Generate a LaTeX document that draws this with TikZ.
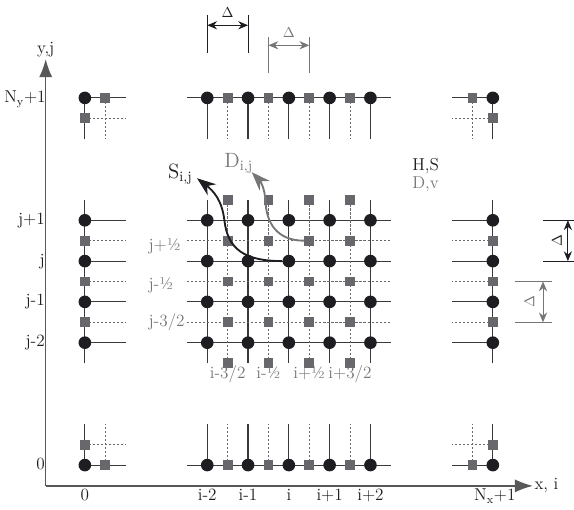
\documentclass[tikz,border=0pt]{standalone}
\usepackage{tikz}
\usetikzlibrary{arrows.meta,positioning}
\definecolor{dotblack}{RGB}{30,30,34}
\definecolor{boxgray}{RGB}{104,104,108}
\definecolor{wiregray}{RGB}{58,58,60}
\definecolor{labgray}{RGB}{118,118,120}
\tikzset{
  hnode/.style={circle,fill=dotblack,inner sep=0pt,minimum size=3.1mm},
  dnode/.style={rectangle,fill=boxgray,inner sep=0pt,minimum size=2.4mm},
  wire/.style={draw=wiregray,line width=0.8pt},
  halfwire/.style={draw=boxgray,line width=0.6pt,dash pattern=on 1.5pt off 1.3pt},
  coordaxis/.style={draw=wiregray!85,line width=0.9pt,-{Latex[length=4.4mm,width=3.2mm]}},
  lab/.style={font=\large,text=dotblack,inner sep=1pt},
  halflab/.style={font=\large,text=labgray,inner sep=1pt},
  biglab/.style={font=\Large,inner sep=1pt},
  keylab/.style={font=\large,inner sep=0pt},
  sflow/.style={-{Stealth[length=4.6mm,width=3.4mm]},line width=1.3pt,draw=dotblack},
  dflow/.style={-{Stealth[length=4.6mm,width=3.4mm]},line width=1.3pt,draw=labgray},
  deltadim/.style={{Stealth[length=2.4mm,width=2mm]}-{Stealth[length=2.4mm,width=2mm]},line width=0.7pt},
  deltaguide/.style={line width=0.6pt},
  deltalab/.style={font=\normalsize,inner sep=0.5pt}
}

\begin{document}
\begin{tikzpicture}
  \useasboundingbox (-2.08,-1.08) rectangle (11.99,11.40);
  \coordinate (orig) at (-0.96,-0.51);
  \coordinate (xtip) at (10.98,-0.51);
  \coordinate (ytip) at (-0.96,9.95);
  \draw[coordaxis] (orig) -- (xtip);
  \draw[coordaxis] (orig) -- (ytip);
  \node[lab,right=0pt of xtip] (xlab) {x, i};
  \node[lab,above=0pt of ytip] (ylab) {y,j};

  % inner block
  \foreach \r in {3,...,6} \draw[wire] (2.5,\r) -- (7.5,\r);
  \foreach \c in {3,...,7} \draw[wire] (\c,2.5) -- (\c,6.5);
  \foreach \k in {3,...,5} \draw[halfwire] (2.5,\k+0.5) -- (7.5,\k+0.5);
  \foreach \k in {3,...,6} \draw[halfwire] (\k+0.5,2.5) -- (\k+0.5,6.5);

  % top and bottom rows
  \foreach \r/\e in {9/8,0/1} {
    \draw[wire] (2.5,\r) -- (7.5,\r);
    \foreach \c in {3,...,7} \draw[wire] (\c,\r) -- (\c,\e);
    \foreach \c in {3,...,6} \draw[halfwire] (\c+0.5,\r) -- (\c+0.5,\e);
  }
  % left and right columns
  \foreach \c/\e in {0/1,10/9} {
    \draw[wire] (\c,2.5) -- (\c,6.5);
    \foreach \r in {3,...,6} \draw[wire] (\c,\r) -- (\e,\r);
    \foreach \r in {3,...,5} \draw[halfwire] (\c,\r+0.5) -- (\e,\r+0.5);
  }
  % corners
  \foreach \c/\r/\sx/\sy in {0/9/1/-1,0/0/1/1,10/9/-1/-1,10/0/-1/1} {
    \draw[wire] (\c+\sx,\r) -- (\c,\r) -- (\c,\r+\sy);
    \draw[halfwire] (\c+0.5*\sx,\r) -- (\c+0.5*\sx,\r+\sy);
    \draw[halfwire] (\c,\r+0.5*\sy) -- (\c+\sx,\r+0.5*\sy);
  }

  \foreach \c in {3,...,7} {
    \foreach \r in {3,...,6} \node[hnode] (h-\c-\r) at (\c,\r) {};
    \node[hnode] (h-\c-9) at (\c,9) {};
    \node[hnode] (h-\c-0) at (\c,0) {};
  }
  \foreach \c in {3,...,6} {
    \foreach \r in {2,...,6} \node[dnode] (d-\c-\r) at (\c+0.5,\r+0.5) {};
    \node[dnode] (u-\c-9) at (\c+0.5,9) {};
    \node[dnode] (u-\c-0) at (\c+0.5,0) {};
  }
  \foreach \c in {0,10} {
    \foreach \r in {3,...,6} \node[hnode] (h-\c-\r) at (\c,\r) {};
    \foreach \r in {3,...,5} \node[dnode] (v-\c-\r) at (\c,\r+0.5) {};
  }
  \foreach \c/\r/\sx/\sy in {0/9/1/-1,0/0/1/1,10/9/-1/-1,10/0/-1/1} {
    \node[hnode] (h-\c-\r) at (\c,\r) {};
    \node[dnode] (u-\c-\r) at (\c+0.5*\sx,\r) {};
    \node[dnode] (v-\c-\r) at (\c,\r+0.5*\sy) {};
  }

  \foreach \r/\t in {6/j+1,5/j,4/j-1,3/j-2,0/0}
    \node[lab,anchor=base east] (yl-\r) at (-0.94,\r-0.1) {\t};
  \node[lab,anchor=base east] (yl-9) at (-0.92,8.88) {N\textsubscript{y}+1};
  \foreach \c/\t in {0/0,3/i-2,4/i-1,5/i,6/i+1,7/i+2}
    \node[lab,anchor=base] (xl-\c) at (\c,-0.88) {\t};
  \node[lab,anchor=base] (xl-10) at (10.05,-0.88) {N\textsubscript{x}+1};

  \foreach \y/\t in {5.27/j+½,4.31/j-½,3.40/{j-3/2}}
    \node[halflab,anchor=base west] at (1.52,\y) {\t};
  \foreach \c/\t in {3/{i-3/2},4/i-½,5/i+½,6/{i+3/2}}
    \node[halflab,anchor=base] (il-\c) at (\c+0.5,2.12) {\t};

  \node[keylab,text=dotblack,anchor=base west] (hs) at (8.02,7.22) {H,S};
  \node[keylab,text=labgray,anchor=base west] (dv) at (8.02,6.78) {D,v};
  \node[biglab,text=dotblack,anchor=base west] (slab) at (2.0,7.03) {S\textsubscript{i,j}};
  \node[biglab,text=labgray,anchor=base west] (dlab) at (3.38,7.30) {D\textsubscript{i,j}};

  \coordinate (stip) at (2.75,7.03);
  \coordinate (dtip) at (4.09,7.18);
  \draw[sflow] (h-5-5.west) .. controls (3.9,5) and (3.5,5.3) .. (3.42,6.0)
    .. controls (3.36,6.5) and (3.15,6.72) .. (stip);
  \draw[dflow] (d-5-5.west) .. controls (4.7,5.5) and (4.45,5.95) .. (4.43,6.45)
    .. controls (4.41,6.8) and (4.3,6.96) .. (dtip);

  % spacing marks
  \coordinate (dxa) at (3,10.78);
  \coordinate (dxb) at (4,10.78);
  \draw[deltaguide,dotblack] (3,10.1) -- (3,11.03) (4,10.1) -- (4,11.03);
  \draw[deltadim,dotblack] (dxa) -- (dxb);
  \node[deltalab,text=dotblack] (dxlab) at (3.5,11.09) {$\Delta$};

  \coordinate (hxa) at (4.5,10.29);
  \coordinate (hxb) at (5.5,10.29);
  \draw[deltaguide,labgray] (4.5,9.6) -- (4.5,10.49) (5.5,9.6) -- (5.5,10.49);
  \draw[deltadim,labgray] (hxa) -- (hxb);
  \node[deltalab,text=labgray] (hxlab) at (5.0,10.59) {$\Delta$};

  \coordinate (dya) at (11.84,6);
  \coordinate (dyb) at (11.84,5);
  \draw[deltaguide,dotblack] (11.24,6) -- (12.0,6) (11.24,5) -- (12.0,5);
  \draw[deltadim,dotblack] (dya) -- (dyb);
  \node[deltalab,text=dotblack,rotate=90] (dylab) at (11.57,5.5) {$\Delta$};

  \coordinate (hya) at (11.23,4.5);
  \coordinate (hyb) at (11.23,3.5);
  \draw[deltaguide,labgray] (10.54,4.5) -- (11.45,4.5) (10.54,3.5) -- (11.45,3.5);
  \draw[deltadim,labgray] (hya) -- (hyb);
  \node[deltalab,text=labgray,rotate=90] (hylab) at (10.9,4.0) {$\Delta$};
\end{tikzpicture}
\end{document}
